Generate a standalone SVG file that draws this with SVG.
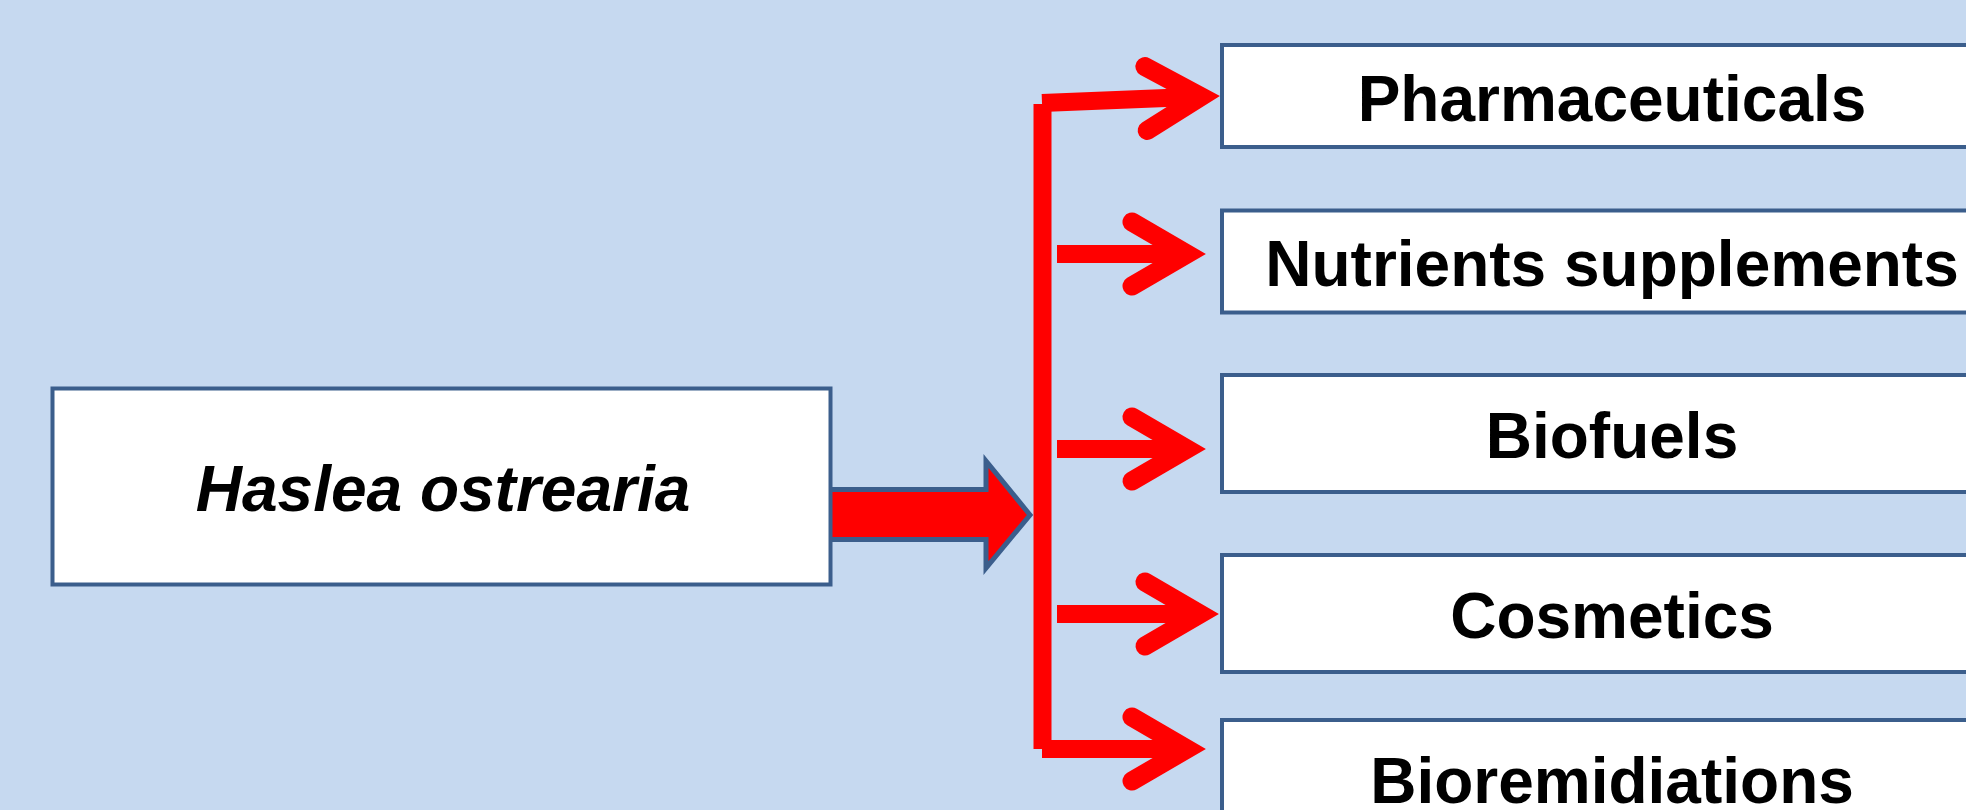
<svg xmlns="http://www.w3.org/2000/svg" width="1966" height="810" viewBox="0 0 1966 810">
  <style>
    .box { fill: #FFFFFF; stroke: #3B5E8C; stroke-width: 4; }
    .lbl { font-family: "Liberation Sans", Arial, sans-serif; font-weight: bold; font-size: 64px; fill: #000000; text-anchor: middle; }
    .it { font-style: italic; }
    .wire { fill: none; stroke: #FF0000; stroke-width: 18; stroke-linecap: butt; }
    .head { fill: none; stroke: #FF0000; stroke-width: 19; stroke-linecap: round; stroke-linejoin: miter; stroke-miterlimit: 10; }
  </style>
  <defs>
    <path id="chev" d="M -74 -32 L -19 0 L -74 32"/>
  </defs>
  <rect x="0" y="0" width="1966" height="810" fill="#C6D9F0"/>

  <g id="connectors">
    <polygon points="826,489.5 986,489.5 986,461 1030,515 986,568 986,539.5 826,539.5" fill="#FF0000" stroke="#3B5E8C" stroke-width="5" stroke-linejoin="miter"/>
    <line class="wire" x1="1042.5" y1="104" x2="1042.5" y2="749"/>
    <line class="wire" x1="1042" y1="103" x2="1203" y2="96.6"/>
    <line class="wire" x1="1042" y1="749" x2="1189" y2="749"/>
    <line class="wire" x1="1057" y1="254" x2="1189" y2="254"/>
    <line class="wire" x1="1057" y1="449" x2="1189" y2="449"/>
    <line class="wire" x1="1057" y1="614" x2="1202" y2="614"/>
    <use href="#chev" class="head" transform="translate(1220,96) rotate(-2)"/>
    <use href="#chev" class="head" transform="translate(1206,254)"/>
    <use href="#chev" class="head" transform="translate(1206,449)"/>
    <use href="#chev" class="head" transform="translate(1219,614)"/>
    <use href="#chev" class="head" transform="translate(1206,749)"/>
  </g>

  <g id="node-haslea">
    <rect class="box" x="52.5" y="388.5" width="778" height="196"/>
    <text class="lbl it" x="443" y="511">Haslea ostrearia</text>
  </g>
  <g id="node-pharmaceuticals">
    <rect class="box" x="1222" y="45" width="780" height="102"/>
    <text class="lbl" x="1612" y="121">Pharmaceuticals</text>
  </g>
  <g id="node-nutrients">
    <rect class="box" x="1222" y="210.5" width="780" height="102"/>
    <text class="lbl" x="1612" y="286">Nutrients supplements</text>
  </g>
  <g id="node-biofuels">
    <rect class="box" x="1222" y="375" width="780" height="117"/>
    <text class="lbl" x="1612" y="458">Biofuels</text>
  </g>
  <g id="node-cosmetics">
    <rect class="box" x="1222" y="555" width="780" height="117"/>
    <text class="lbl" x="1612" y="638">Cosmetics</text>
  </g>
  <g id="node-bioremidiations">
    <rect class="box" x="1222" y="720" width="780" height="120"/>
    <text class="lbl" x="1612" y="803">Bioremidiations</text>
  </g>
</svg>
